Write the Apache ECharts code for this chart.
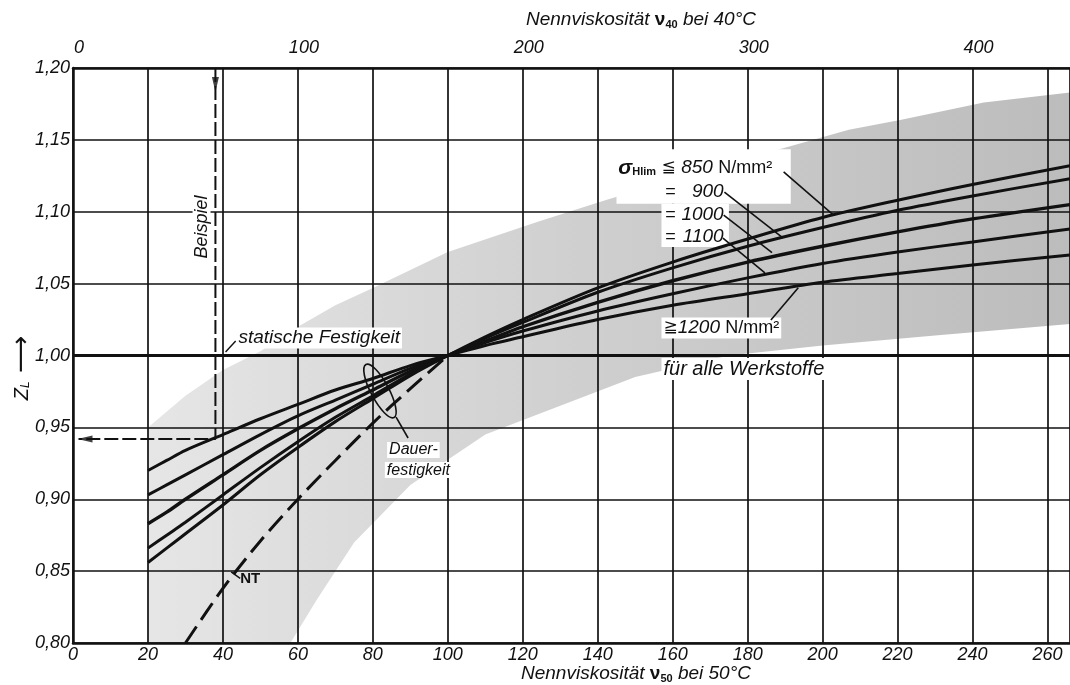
<!DOCTYPE html>
<html>
<head>
<meta charset="utf-8">
<title>Schmierstofffaktor Z_L</title>
<script src="https://cdn.jsdelivr.net/npm/echarts@6/dist/echarts.min.js"></script>
<style>
  html, body { margin: 0; padding: 0; background: #fff; }
  #chart { width: 1070px; height: 685px; }
</style>
</head>
<body>
<div id="chart"></div>
<script>
// Ablesestellen Nennviskosität ν50 (mm²/s)
const nu50 = [20, 25, 30, 40, 50, 60, 70, 80, 90, 100, 110, 120, 140, 160, 180, 200, 220, 240, 266]

// Z_L je Werkstoff-Dauerfestigkeit σHlim
const zl850 = [0.856, 0.866, 0.876, 0.896, 0.917, 0.936, 0.954, 0.970, 0.986, 1.000, 1.013, 1.025, 1.047, 1.065, 1.081, 1.096, 1.108, 1.119, 1.132]
const zl900 = [0.866, 0.875, 0.884, 0.903, 0.922, 0.940, 0.957, 0.972, 0.987, 1.000, 1.012, 1.023, 1.044, 1.061, 1.076, 1.089, 1.101, 1.111, 1.123]
const zl1000 = [0.883, 0.891, 0.900, 0.917, 0.934, 0.949, 0.963, 0.976, 0.989, 1.000, 1.010, 1.020, 1.037, 1.052, 1.065, 1.076, 1.086, 1.095, 1.105]
const zl1100 = [0.903, 0.910, 0.917, 0.931, 0.945, 0.958, 0.969, 0.980, 0.991, 1.000, 1.009, 1.017, 1.031, 1.043, 1.054, 1.064, 1.072, 1.079, 1.088]
const zl1200 = [0.920, 0.927, 0.934, 0.945, 0.956, 0.966, 0.976, 0.984, 0.993, 1.000, 1.007, 1.013, 1.025, 1.035, 1.043, 1.051, 1.057, 1.063, 1.070]

// NT (gestrichelt)
const nuNT = [30, 40, 50, 60, 70, 80, 90, 100]
const zlNT = [0.800, 0.838, 0.871, 0.900, 0.927, 0.953, 0.977, 1.000]

// Streubereich (grau)
const bandTopNu = [20, 30, 40, 50, 60, 70, 80, 100, 124, 142, 170, 207, 221, 243, 266]
const bandTopZ = [0.950, 0.972, 0.990, 1.003, 1.020, 1.035, 1.047, 1.072, 1.093, 1.108, 1.130, 1.157, 1.164, 1.176, 1.183]
const bandBotNu = [20, 58, 65, 75, 90, 110, 130, 150, 175, 200, 230, 266]
const bandBotZ = [0.800, 0.800, 0.830, 0.870, 0.910, 0.945, 0.965, 0.985, 1.000, 1.007, 1.014, 1.022]

// Beispiel: ν50 = 38 -> Z_L = 0,942
const beispielNu = 38
const beispielZ = 0.942

// Achsen
const nuMax = 266
const nu40PerNu50 = 1 / 0.6
const yTicks = [0.80, 0.85, 0.90, 0.95, 1.00, 1.05, 1.10, 1.15, 1.20]
const topTicks = [0, 100, 200, 300, 400]

const INK = '#111'
const FONT = "'Liberation Sans', 'DejaVu Sans', sans-serif"

const pairs = (xs, ys) => xs.map((x, i) => [x, ys[i]])

const curve = (name, ys, width) => ({
  name,
  type: 'line',
  data: pairs(nu50, ys),
  smooth: 0.3,
  symbol: 'none',
  z: 5,
  lineStyle: { color: INK, width: width || 3 },
})

const option = {
  animation: false,
  backgroundColor: '#fff',
  grid: { left: 73, right: -3, top: 68, bottom: 42 },
  xAxis: [
    {
      type: 'value',
      position: 'bottom',
      min: 0,
      max: nuMax,
      interval: 20,
      z: 3,
      axisLine: { lineStyle: { color: INK, width: 2.5 } },
      axisTick: { show: false },
      axisLabel: {
        color: INK,
        fontSize: 18,
        fontStyle: 'italic',
        fontFamily: FONT,
        margin: 3,
        showMaxLabel: false,
        formatter: (v) => (v % 20 === 0 ? String(v) : ''),
      },
      splitLine: { lineStyle: { color: INK, width: 1.7 } },
    },
    {
      type: 'value',
      position: 'top',
      min: 0,
      max: nuMax * nu40PerNu50,
      interval: 100,
      z: 3,
      axisLine: { lineStyle: { color: INK, width: 2.5 } },
      axisTick: { show: false },
      axisLabel: {
        color: INK,
        fontSize: 18,
        fontStyle: 'italic',
        fontFamily: FONT,
        margin: 11,
        padding: [0, 0, 0, 12],
        showMaxLabel: false,
        formatter: (v) => (topTicks.includes(v) ? String(v) : ''),
      },
      splitLine: { show: false },
    },
  ],
  yAxis: {
    type: 'value',
    min: 0.8,
    max: 1.2,
    interval: 0.05,
    z: 3,
    axisLine: { show: true, lineStyle: { color: INK, width: 2.5 } },
    axisTick: { show: false },
    axisLabel: {
      color: INK,
      fontSize: 18,
      fontStyle: 'italic',
      fontFamily: FONT,
      margin: 3,
      formatter: (v) => {
        const t = yTicks.find((k) => Math.abs(k - v) < 1e-6)
        return t === undefined ? '' : t.toFixed(2).replace('.', ',')
      },
    },
    splitLine: { lineStyle: { color: INK, width: 1.7 } },
  },
  series: [
    {
      type: 'custom',
      z: 1,
      silent: true,
      clip: true,
      data: [[0, 1]],
      renderItem: (params, api) => {
        const top = bandTopNu.map((n, i) => api.coord([n, bandTopZ[i]]))
        const bot = bandBotNu.map((n, i) => api.coord([n, bandBotZ[i]])).reverse()
        return {
          type: 'polygon',
          shape: { points: top.concat(bot) },
          style: {
            fill: new echarts.graphic.LinearGradient(0, 0, 1, 0, [
              { offset: 0, color: '#e6e6e6' },
              { offset: 0.45, color: '#d0d0d0' },
              { offset: 1, color: '#bcbcbc' },
            ]),
          },
        }
      },
    },
    {
      name: 'statisch',
      type: 'line',
      data: [[0, 1], [nuMax, 1]],
      symbol: 'none',
      z: 4,
      lineStyle: { color: INK, width: 3 },
    },
    curve('850', zl850),
    curve('900', zl900),
    curve('1000', zl1000, 3.4),
    curve('1100', zl1100),
    curve('1200', zl1200),
    {
      name: 'NT',
      type: 'line',
      data: pairs(nuNT, zlNT),
      smooth: 0.3,
      symbol: 'none',
      z: 5,
      lineStyle: { color: INK, width: 3, type: [20, 8] },
    },
    {
      name: 'Beispiel',
      type: 'line',
      data: [[beispielNu, 1.2], [beispielNu, beispielZ], [1.5, beispielZ]],
      symbol: 'none',
      z: 5,
      lineStyle: { color: INK, width: 2, type: [14, 4] },
    },
    {
      name: 'Pfeile',
      type: 'scatter',
      symbol: 'triangle',
      symbolSize: [7, 15],
      z: 6,
      itemStyle: { color: INK },
      data: [
        { value: [beispielNu, 1.1885], symbolRotate: 180 },
        { value: [3.2, beispielZ], symbolRotate: 90 },
      ],
    },
  ],
}

const chart = echarts.init(document.getElementById('chart'))
chart.setOption(option)

const toPx = (nu, z) => chart.convertToPixel({ xAxisIndex: 0, yAxisIndex: 0 }, [nu, z])

const baseText = { fill: INK, fontFamily: FONT, fontSize: 18, fontStyle: 'italic', verticalAlign: 'middle' }

const note = (text, nu, z, extra) => {
  const [x, y] = toPx(nu, z)
  return { type: 'text', x, y, z: 10, style: Object.assign({}, baseText, { text, align: 'left' }, extra || {}) }
}

const leader = (a, b, w) => {
  const p = toPx(a[0], a[1])
  const q = toPx(b[0], b[1])
  return { type: 'line', z: 10, shape: { x1: p[0], y1: p[1], x2: q[0], y2: q[1] }, style: { stroke: INK, lineWidth: w || 1.6 } }
}

const whiteBox = (a, b) => {
  const p = toPx(a[0], a[1])
  const q = toPx(b[0], b[1])
  return { type: 'rect', z: 4, shape: { x: p[0], y: p[1], width: q[0] - p[0], height: q[1] - p[1] }, style: { fill: '#fff' } }
}

const subRich = {
  n: { fontSize: 19, fontStyle: 'italic', fontFamily: FONT, fill: INK },
  nu: { fontSize: 19, fontWeight: 'bold', fontFamily: FONT, fill: INK },
  sub: { fontSize: 11, fontWeight: 'bold', fontFamily: FONT, fill: INK, padding: [10, 0, 0, 0] },
}

const unitRich = {
  s: { fontSize: 21, fontWeight: 'bold', fontStyle: 'italic', fontFamily: FONT, fill: INK },
  h: { fontSize: 11, fontWeight: 'bold', fontFamily: FONT, fill: INK, padding: [8, 0, 0, 0] },
  t: { fontSize: 17, fontFamily: 'DejaVu Sans', fill: INK },
  i: { fontSize: 19, fontStyle: 'italic', fontFamily: FONT, fill: INK },
  u: { fontSize: 18, fontFamily: FONT, fill: INK },
}

const [ex, ey] = toPx(81.9, 0.9753)

chart.setOption({
  graphic: [
    whiteBox([145, 1.1435], [191.5, 1.1055]),
    whiteBox([157, 1.1055], [175, 1.0755]),

    note('{s|σ}{h|Hlim}{t| ≦ }{i|850 }{u|N/mm²}', 145.5, 1.1304, { rich: unitRich }),
    note('=', 158, 1.1139, { fontStyle: 'normal' }),
    note('=', 158, 1.0979, { fontStyle: 'normal' }),
    note('=', 158, 1.0826, { fontStyle: 'normal' }),
    note('900', 173.6, 1.1139, { align: 'right', fontSize: 19 }),
    note('1000', 173.6, 1.0979, { align: 'right', fontSize: 19 }),
    note('1100', 173.6, 1.0826, { align: 'right', fontSize: 19 }),
    leader([189.6, 1.1277], [203.0, 1.0975]),
    leader([173.8, 1.1137], [189.4, 1.0818]),
    leader([173.6, 1.0977], [186.5, 1.0716]),
    leader([173.4, 1.0817], [184.6, 1.0575]),

    note('{t|≧}{i|1200 }{u|N/mm²}', 157, 1.0191, { backgroundColor: '#fff', padding: [1, 2], rich: unitRich }),
    leader([186.2, 1.0247], [193.5, 1.0472]),
    note('für alle Werkstoffe', 157, 0.9906, { backgroundColor: '#fff', padding: [1, 2], fontSize: 20 }),

    note('statische Festigkeit', 43.6, 1.0122, { backgroundColor: '#fff', padding: [1, 2], fontSize: 19 }),
    leader([40.7, 1.0024], [43.4, 1.0101], 1.4),

    note('Dauer-', 83.8, 0.9343, { backgroundColor: '#fff', padding: [0, 2], fontSize: 16 }),
    note('festigkeit', 83.2, 0.9203, { backgroundColor: '#fff', padding: [0, 2], fontSize: 16 }),
    {
      type: 'ellipse',
      z: 10,
      x: ex,
      y: ey,
      rotation: (-62 * Math.PI) / 180,
      shape: { cx: 0, cy: 0, rx: 30, ry: 9 },
      style: { fill: 'none', stroke: INK, lineWidth: 1.6 },
    },
    leader([86.2, 0.9572], [89.4, 0.9426]),

    note('NT', 44.6, 0.8445, { fontStyle: 'normal', fontWeight: 'bold', fontSize: 15 }),
    leader([42.2, 0.8495], [44.6, 0.8450], 1.4),

    Object.assign(note('Beispiel', 34.3, 1.0894, { align: 'center', backgroundColor: '#fff', padding: [0, 2] }), {
      rotation: Math.PI / 2,
    }),

    {
      type: 'text',
      x: 22,
      y: 368,
      rotation: Math.PI / 2,
      z: 10,
      style: {
        text: '{z|Z}{sub|L}{a| ⟶}',
        align: 'center',
        verticalAlign: 'middle',
        rich: {
          z: { fontSize: 20, fontStyle: 'italic', fontFamily: FONT, fill: INK },
          sub: { fontSize: 12, fontStyle: 'italic', fontFamily: FONT, fill: INK, padding: [8, 0, 0, 0] },
          a: { fontSize: 26, fontFamily: 'DejaVu Sans', fill: INK },
        },
      },
    },
    {
      type: 'text',
      x: 641,
      y: 20,
      z: 10,
      style: { text: '{n|Nennviskosität }{nu|ν}{sub|40}{n| bei 40°C}', align: 'center', verticalAlign: 'middle', rich: subRich },
    },
    {
      type: 'text',
      x: 636,
      y: 674,
      z: 10,
      style: { text: '{n|Nennviskosität }{nu|ν}{sub|50}{n| bei 50°C}', align: 'center', verticalAlign: 'middle', rich: subRich },
    },
  ],
})
</script>
</body>
</html>
